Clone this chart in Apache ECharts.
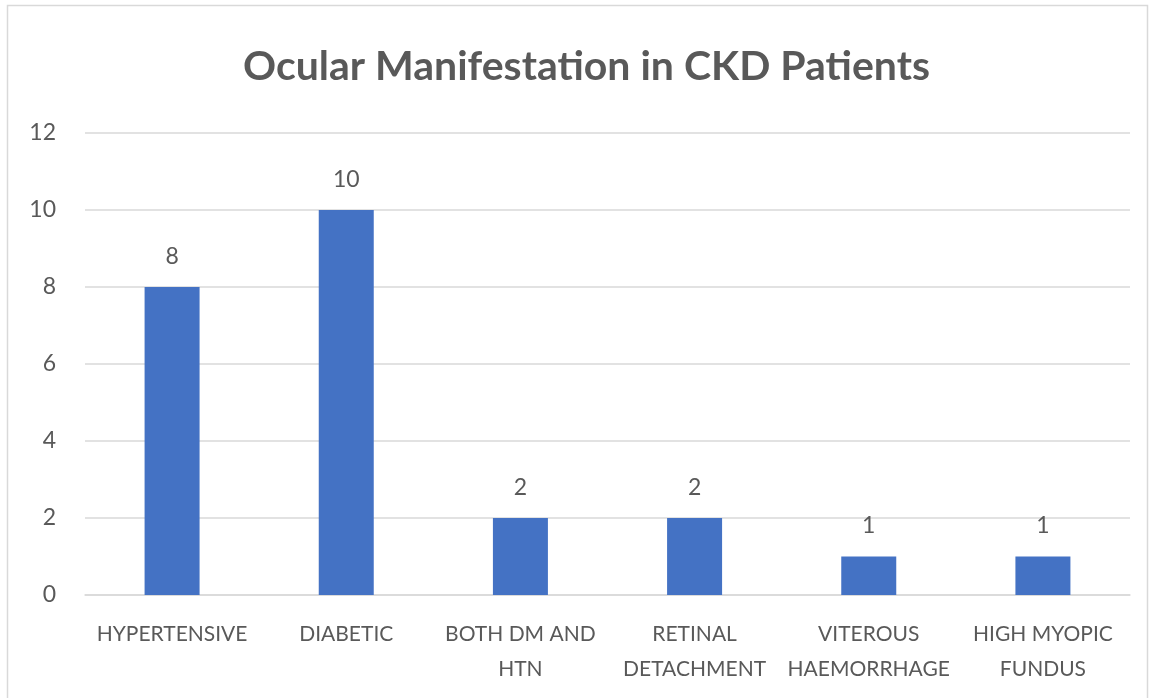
<!DOCTYPE html>
<html>
<head>
<meta charset="utf-8">
<script src="https://cdn.jsdelivr.net/npm/echarts@6/dist/echarts.min.js"></script>
<style>
  html, body { margin: 0; padding: 0; background: #ffffff; }
  #chart { width: 1156px; height: 698px; }
</style>
</head>
<body>
<div id="chart"></div>
<script>
// Number of CKD patients per ocular finding
const categories = [
  'HYPERTENSIVE',
  'DIABETIC',
  'BOTH DM AND\nHTN',
  'RETINAL\nDETACHMENT',
  'VITEROUS\nHAEMORRHAGE',
  'HIGH MYOPIC\nFUNDUS'
];
const patientCounts = [8, 10, 2, 2, 1, 1];
const yTicks = [0, 2, 4, 6, 8, 10, 12];

const FONT = 'Lato, "Open Sans", sans-serif';
const TEXT = '#595959';
const GRID = '#d9d9d9';

const chart = echarts.init(document.getElementById('chart'), null, { renderer: 'canvas' });

chart.setOption({
  backgroundColor: '#ffffff',
  animation: false,
  title: {
    text: 'Ocular Manifestation in CKD Patients',
    left: 243,
    top: 46,
    padding: 0,
    textStyle: { fontFamily: FONT, fontSize: 41, fontWeight: 'bold', color: TEXT }
  },
  graphic: [{
    type: 'rect',
    shape: { x: 7.5, y: 5.5, width: 1140, height: 720 },
    style: { fill: 'none', stroke: GRID, lineWidth: 1.5 },
    silent: true,
    z: -1
  }],
  grid: { left: 85, right: 26, top: 133, bottom: 103, containLabel: false },
  xAxis: {
    type: 'category',
    data: categories,
    axisLine: { show: true, lineStyle: { color: GRID, width: 1.5 } },
    axisTick: { show: false },
    axisLabel: {
      fontFamily: FONT, fontSize: 21, color: TEXT,
      margin: 22, lineHeight: 35, interval: 0
    }
  },
  yAxis: {
    type: 'value',
    min: yTicks[0],
    max: yTicks[yTicks.length - 1],
    interval: yTicks[1] - yTicks[0],
    axisLine: { show: false },
    axisTick: { show: false },
    splitLine: { lineStyle: { color: GRID, width: 1.5 } },
    axisLabel: { fontFamily: FONT, fontSize: 23, color: TEXT, margin: 29 }
  },
  series: [{
    type: 'bar',
    data: patientCounts,
    barWidth: 55,
    itemStyle: { color: '#4472C4' },
    label: {
      show: true,
      position: 'top',
      distance: 19,
      fontFamily: FONT, fontSize: 23, color: TEXT
    }
  }]
});
</script>
</body>
</html>
